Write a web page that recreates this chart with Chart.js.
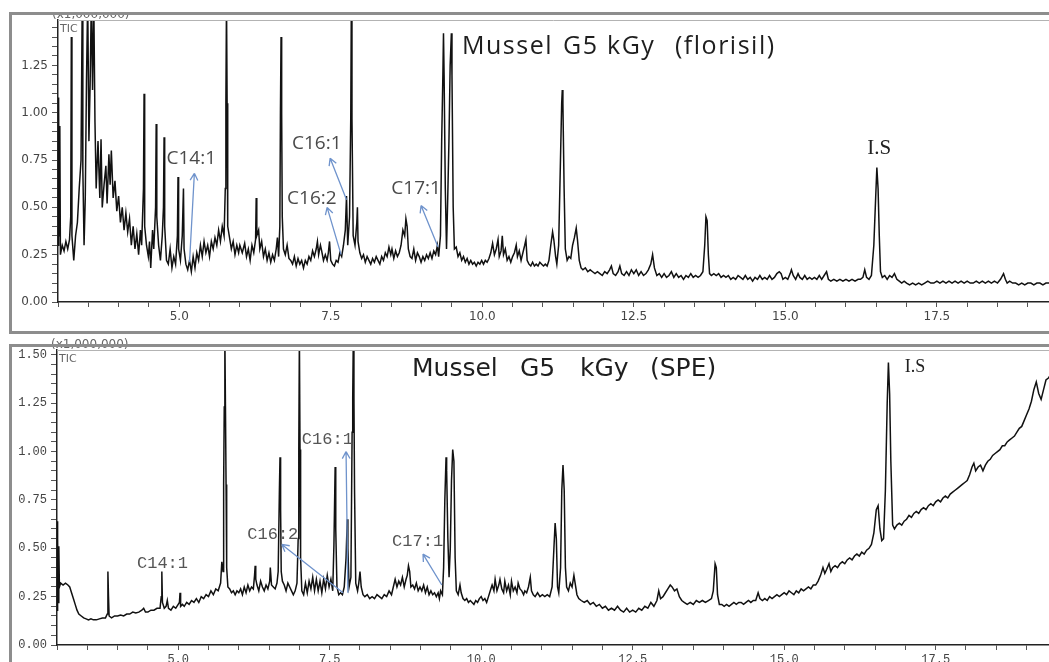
<!DOCTYPE html>
<html>
<head>
<meta charset="utf-8">
<title>Mussel G5 kGy chromatograms</title>
<script src="https://cdn.jsdelivr.net/npm/chart.js@4.4.1/dist/chart.umd.min.js"></script>
<style>
    html, body { margin: 0; padding: 0; background: #fff; }
    body { position: relative; width: 1049px; height: 662px; overflow: hidden; }
    canvas { position: absolute; left: 0; }
    #c1 { top: 0; }
    #c2 { top: 335px; }
    .cover { position: absolute; left: 0; top: 0; width: 1049px; height: 12px; background: #fff; z-index: 2; }
    .box { position: absolute; left: 9px; width: 1100px; box-sizing: border-box;
           border: 3px solid #8d8d8d; z-index: 3; pointer-events: none; }
    #box1 { top: 12px; height: 322px; }
    #box2 { top: 344px; height: 400px; }
</style>
</head>
<body>
<canvas id="c1" width="1049" height="340"></canvas>
<canvas id="c2" width="1049" height="340"></canvas>
<div class="cover"></div>
<div class="box" id="box1"></div>
<div class="box" id="box2"></div>

<script>
// ============ DATA ============

// Retention time (min) / TIC intensity (x1,000,000) - florisil clean-up
const floPoints = [
    [3.00,0.30],[3.01,1.08],[3.02,0.35],[3.03,0.93],[3.04,0.25],[3.07,0.30],[3.10,0.27],[3.13,0.32],
    [3.16,0.28],[3.19,0.33],[3.21,0.45],[3.22,1.40],[3.23,0.35],[3.26,0.22],[3.29,0.35],[3.32,0.42],
    [3.35,0.60],[3.38,0.75],[3.40,1.60],[3.41,0.70],[3.43,0.30],[3.45,0.55],[3.47,1.17],[3.49,1.60],
    [3.51,0.85],[3.53,1.15],[3.55,1.60],[3.57,1.12],[3.59,1.60],[3.61,0.95],[3.63,0.60],[3.66,0.85],
    [3.69,0.55],[3.71,0.86],[3.73,0.50],[3.76,0.62],[3.79,0.72],[3.81,0.52],[3.84,0.78],[3.86,0.62],
    [3.88,0.80],[3.91,0.55],[3.94,0.64],[3.97,0.48],[4.00,0.56],[4.03,0.42],[4.06,0.50],[4.09,0.38],
    [4.12,0.47],[4.15,0.37],[4.18,0.44],[4.21,0.30],[4.24,0.40],[4.27,0.28],[4.30,0.36],[4.33,0.25],
    [4.36,0.38],[4.38,0.30],[4.41,0.60],[4.42,1.10],[4.43,0.40],[4.46,0.30],[4.49,0.24],[4.51,0.32],
    [4.53,0.18],[4.56,0.38],[4.58,0.28],[4.61,0.50],[4.62,0.94],[4.63,0.45],[4.66,0.30],[4.69,0.22],
    [4.72,0.35],[4.74,0.50],[4.75,0.87],[4.76,0.40],[4.79,0.22],[4.82,0.20],[4.85,0.28],[4.88,0.18],
    [4.91,0.24],[4.94,0.20],[4.97,0.35],[4.98,0.66],[4.99,0.28],[5.02,0.22],[5.05,0.35],[5.07,0.60],
    [5.08,0.28],[5.11,0.20],[5.14,0.17],[5.17,0.22],[5.20,0.16],[5.23,0.24],[5.26,0.18],[5.29,0.26],
    [5.32,0.22],[5.35,0.30],[5.38,0.24],[5.41,0.32],[5.44,0.26],[5.47,0.30],[5.50,0.24],[5.53,0.32],
    [5.56,0.28],[5.59,0.34],[5.62,0.30],[5.65,0.38],[5.68,0.32],[5.71,0.40],[5.74,0.35],[5.76,0.60],
    [5.77,1.05],[5.78,1.60],[5.79,1.05],[5.80,0.40],[5.83,0.34],[5.86,0.28],[5.89,0.32],[5.92,0.25],
    [5.95,0.30],[5.98,0.26],[6.00,0.30],[6.04,0.26],[6.08,0.31],[6.11,0.24],[6.14,0.28],[6.17,0.22],
    [6.20,0.30],[6.23,0.26],[6.26,0.33],[6.27,0.55],[6.28,0.35],[6.31,0.38],[6.33,0.28],[6.36,0.32],
    [6.39,0.24],[6.42,0.28],[6.45,0.22],[6.48,0.26],[6.51,0.21],[6.54,0.25],[6.57,0.22],[6.60,0.28],
    [6.62,0.34],[6.64,0.24],[6.66,0.40],[6.67,1.01],[6.68,1.40],[6.69,1.00],[6.70,0.45],[6.72,0.28],
    [6.75,0.25],[6.78,0.30],[6.81,0.23],[6.84,0.22],[6.87,0.20],[6.90,0.24],[6.93,0.19],[6.96,0.23],
    [6.99,0.20],[7.02,0.22],[7.05,0.18],[7.08,0.22],[7.11,0.20],[7.14,0.24],[7.17,0.22],[7.20,0.27],
    [7.23,0.24],[7.26,0.28],[7.28,0.32],[7.30,0.25],[7.33,0.30],[7.35,0.27],[7.38,0.22],[7.41,0.25],
    [7.44,0.22],[7.46,0.26],[7.48,0.32],[7.50,0.22],[7.53,0.20],[7.56,0.19],[7.59,0.22],[7.62,0.21],
    [7.65,0.26],[7.68,0.24],[7.71,0.30],[7.74,0.38],[7.76,0.56],[7.78,0.30],[7.81,0.45],[7.83,0.97],
    [7.84,1.60],[7.85,0.97],[7.87,0.35],[7.90,0.30],[7.93,0.42],[7.94,0.50],[7.95,0.32],[7.98,0.26],
    [8.01,0.23],[8.04,0.25],[8.07,0.21],[8.10,0.24],[8.13,0.22],[8.16,0.20],[8.19,0.23],[8.22,0.21],
    [8.25,0.24],[8.28,0.22],[8.31,0.20],[8.34,0.24],[8.37,0.22],[8.40,0.26],[8.43,0.24],[8.46,0.29],
    [8.49,0.25],[8.51,0.28],[8.54,0.23],[8.57,0.27],[8.60,0.24],[8.63,0.26],[8.66,0.30],[8.69,0.38],
    [8.72,0.35],[8.74,0.44],[8.76,0.40],[8.78,0.28],[8.81,0.24],[8.84,0.23],[8.87,0.28],[8.90,0.22],
    [8.93,0.26],[8.96,0.24],[8.99,0.21],[9.02,0.24],[9.05,0.22],[9.08,0.25],[9.11,0.23],[9.14,0.26],
    [9.17,0.23],[9.20,0.27],[9.23,0.25],[9.26,0.30],[9.28,0.24],[9.31,0.35],[9.33,0.85],[9.35,1.20],
    [9.36,1.42],[9.37,1.20],[9.39,0.60],[9.41,0.28],[9.43,0.55],[9.45,0.85],[9.47,1.25],[9.49,1.42],
    [9.50,1.20],[9.52,0.50],[9.54,0.28],[9.57,0.29],[9.60,0.24],[9.63,0.26],[9.66,0.22],[9.69,0.24],
    [9.72,0.21],[9.75,0.23],[9.78,0.20],[9.81,0.22],[9.84,0.20],[9.87,0.21],[9.90,0.19],[9.93,0.21],
    [9.96,0.20],[9.99,0.22],[10.02,0.20],[10.05,0.22],[10.08,0.21],[10.11,0.23],[10.14,0.26],[10.17,0.31],
    [10.20,0.25],[10.23,0.28],[10.26,0.33],[10.28,0.24],[10.31,0.27],[10.33,0.35],[10.35,0.25],[10.38,0.28],
    [10.41,0.22],[10.44,0.24],[10.47,0.21],[10.50,0.24],[10.53,0.26],[10.56,0.30],[10.58,0.24],[10.61,0.27],
    [10.64,0.22],[10.67,0.26],[10.70,0.30],[10.72,0.33],[10.74,0.22],[10.77,0.20],[10.80,0.19],[10.83,0.21],
    [10.86,0.19],[10.89,0.20],[10.92,0.19],[10.95,0.21],[10.98,0.20],[11.01,0.19],[11.04,0.20],[11.07,0.19],
    [11.10,0.22],[11.13,0.30],[11.16,0.37],[11.18,0.33],[11.21,0.24],[11.23,0.20],[11.26,0.30],[11.29,0.75],
    [11.31,1.05],[11.32,1.12],[11.33,1.05],[11.35,0.60],[11.37,0.28],[11.40,0.22],[11.43,0.24],[11.46,0.23],
    [11.49,0.30],[11.52,0.34],[11.55,0.39],[11.57,0.33],[11.60,0.22],[11.63,0.18],[11.66,0.17],[11.70,0.18],
    [11.74,0.16],[11.78,0.17],[11.82,0.16],[11.86,0.15],[11.90,0.16],[11.94,0.15],[11.98,0.14],[12.02,0.16],
    [12.06,0.15],[12.10,0.17],[12.13,0.19],[12.16,0.15],[12.20,0.14],[12.24,0.16],[12.27,0.19],[12.30,0.15],
    [12.34,0.14],[12.38,0.16],[12.42,0.14],[12.46,0.17],[12.50,0.15],[12.54,0.17],[12.58,0.14],[12.62,0.16],
    [12.66,0.14],[12.70,0.15],[12.74,0.17],[12.78,0.20],[12.81,0.25],[12.84,0.18],[12.88,0.14],[12.92,0.15],
    [12.96,0.13],[13.00,0.15],[13.04,0.13],[13.08,0.14],[13.12,0.16],[13.16,0.13],[13.20,0.15],[13.24,0.13],
    [13.28,0.14],[13.32,0.12],[13.36,0.14],[13.40,0.13],[13.44,0.15],[13.48,0.13],[13.52,0.14],[13.56,0.13],
    [13.60,0.14],[13.64,0.16],[13.67,0.30],[13.69,0.45],[13.71,0.43],[13.73,0.25],[13.75,0.15],[13.78,0.14],
    [13.82,0.15],[13.86,0.14],[13.90,0.15],[13.94,0.13],[13.98,0.14],[14.02,0.13],[14.06,0.14],[14.10,0.12],
    [14.14,0.13],[14.18,0.12],[14.22,0.14],[14.26,0.13],[14.30,0.12],[14.34,0.14],[14.38,0.12],[14.42,0.13],
    [14.46,0.11],[14.50,0.13],[14.54,0.12],[14.58,0.14],[14.62,0.12],[14.66,0.13],[14.70,0.12],[14.74,0.14],
    [14.78,0.12],[14.82,0.13],[14.86,0.15],[14.90,0.16],[14.93,0.15],[14.96,0.12],[15.00,0.13],[15.04,0.12],
    [15.08,0.15],[15.10,0.17],[15.13,0.14],[15.17,0.12],[15.21,0.15],[15.24,0.13],[15.28,0.12],[15.32,0.14],
    [15.36,0.12],[15.40,0.13],[15.44,0.12],[15.48,0.13],[15.52,0.12],[15.56,0.14],[15.60,0.12],[15.64,0.14],
    [15.68,0.16],[15.71,0.12],[15.75,0.11],[15.80,0.12],[15.85,0.11],[15.90,0.12],[15.95,0.11],[16.00,0.12],
    [16.05,0.11],[16.10,0.12],[16.15,0.11],[16.20,0.12],[16.24,0.12],[16.28,0.13],[16.31,0.17],[16.34,0.13],
    [16.38,0.12],[16.42,0.14],[16.46,0.30],[16.49,0.55],[16.51,0.71],[16.53,0.60],[16.55,0.35],[16.57,0.16],
    [16.60,0.13],[16.64,0.14],[16.68,0.12],[16.72,0.14],[16.76,0.13],[16.80,0.15],[16.84,0.12],[16.88,0.11],
    [16.92,0.10],[16.96,0.11],[17.00,0.10],[17.05,0.09],[17.10,0.10],[17.15,0.09],[17.20,0.10],[17.25,0.09],
    [17.30,0.10],[17.35,0.11],[17.40,0.10],[17.45,0.10],[17.50,0.11],[17.55,0.10],[17.60,0.11],[17.65,0.10],
    [17.70,0.11],[17.75,0.10],[17.80,0.11],[17.85,0.10],[17.90,0.11],[17.95,0.10],[18.00,0.11],[18.05,0.10],
    [18.10,0.10],[18.15,0.11],[18.20,0.10],[18.25,0.11],[18.30,0.10],[18.35,0.11],[18.40,0.10],[18.45,0.11],
    [18.50,0.10],[18.55,0.12],[18.60,0.15],[18.63,0.12],[18.66,0.10],[18.70,0.11],[18.75,0.10],[18.80,0.10],
    [18.85,0.09],[18.90,0.10],[18.95,0.09],[19.00,0.10],[19.05,0.10],[19.10,0.09],[19.15,0.10],[19.20,0.10],
    [19.25,0.09],[19.30,0.10],[19.35,0.10],[19.40,0.10]
];

// Retention time (min) / TIC intensity (x1,000,000) - SPE clean-up
const spePoints = [
    [3.00,0.18],[3.005,0.64],[3.01,0.20],[3.015,0.55],[3.02,0.22],[3.03,0.51],[3.04,0.30],[3.06,0.32],
    [3.10,0.31],[3.14,0.32],[3.18,0.31],[3.21,0.30],[3.24,0.27],[3.27,0.24],[3.30,0.21],[3.33,0.18],
    [3.36,0.16],[3.40,0.15],[3.44,0.14],[3.48,0.135],[3.52,0.13],[3.56,0.135],[3.60,0.13],[3.65,0.13],
    [3.70,0.135],[3.75,0.14],[3.80,0.14],[3.83,0.16],[3.84,0.38],[3.85,0.25],[3.86,0.15],[3.90,0.14],
    [3.95,0.15],[4.00,0.15],[4.05,0.155],[4.10,0.15],[4.15,0.16],[4.20,0.16],[4.25,0.17],[4.30,0.165],
    [4.35,0.17],[4.40,0.18],[4.43,0.19],[4.46,0.17],[4.50,0.17],[4.55,0.18],[4.60,0.18],[4.65,0.19],
    [4.70,0.19],[4.72,0.25],[4.73,0.38],[4.74,0.22],[4.77,0.19],[4.80,0.20],[4.82,0.23],[4.84,0.19],
    [4.88,0.18],[4.92,0.20],[4.96,0.19],[5.00,0.21],[5.02,0.22],[5.03,0.27],[5.04,0.20],[5.07,0.21],
    [5.10,0.20],[5.14,0.22],[5.18,0.21],[5.22,0.23],[5.26,0.22],[5.30,0.24],[5.34,0.22],[5.38,0.25],
    [5.42,0.24],[5.46,0.26],[5.50,0.25],[5.54,0.28],[5.58,0.26],[5.62,0.29],[5.66,0.28],[5.70,0.32],
    [5.72,0.43],[5.74,0.38],[5.75,0.83],[5.76,1.23],[5.77,1.60],[5.78,1.23],[5.79,0.83],[5.80,0.40],
    [5.82,0.30],[5.85,0.29],[5.88,0.27],[5.91,0.28],[5.94,0.26],[5.97,0.28],[6.00,0.27],[6.03,0.29],
    [6.06,0.26],[6.09,0.30],[6.12,0.27],[6.15,0.31],[6.18,0.28],[6.21,0.30],[6.24,0.29],[6.26,0.36],
    [6.27,0.41],[6.28,0.34],[6.30,0.31],[6.33,0.28],[6.36,0.33],[6.39,0.30],[6.42,0.28],[6.45,0.31],
    [6.48,0.29],[6.51,0.33],[6.52,0.40],[6.54,0.31],[6.57,0.30],[6.60,0.29],[6.63,0.32],[6.65,0.38],
    [6.67,0.80],[6.68,0.97],[6.69,0.70],[6.70,0.38],[6.72,0.33],[6.75,0.31],[6.78,0.28],[6.81,0.32],
    [6.84,0.30],[6.87,0.28],[6.90,0.26],[6.93,0.28],[6.96,0.32],[6.98,0.55],[6.99,1.01],[7.00,1.60],
    [7.01,1.01],[7.02,0.45],[7.04,0.28],[7.07,0.26],[7.10,0.32],[7.13,0.27],[7.16,0.33],[7.19,0.29],
    [7.22,0.35],[7.25,0.28],[7.28,0.34],[7.31,0.28],[7.34,0.33],[7.37,0.27],[7.40,0.34],[7.43,0.29],
    [7.46,0.36],[7.49,0.30],[7.52,0.34],[7.55,0.28],[7.57,0.52],[7.59,0.92],[7.60,0.60],[7.62,0.30],
    [7.65,0.26],[7.68,0.27],[7.71,0.26],[7.74,0.30],[7.77,0.45],[7.79,0.65],[7.80,0.50],[7.82,0.30],
    [7.85,0.35],[7.87,1.10],[7.88,1.28],[7.89,1.60],[7.90,1.28],[7.91,0.80],[7.93,0.32],[7.96,0.28],
    [7.98,0.32],[8.00,0.38],[8.02,0.30],[8.05,0.26],[8.08,0.25],[8.12,0.26],[8.16,0.24],[8.20,0.25],
    [8.24,0.24],[8.28,0.26],[8.32,0.25],[8.36,0.24],[8.40,0.26],[8.44,0.25],[8.48,0.28],[8.52,0.26],
    [8.55,0.30],[8.58,0.34],[8.61,0.30],[8.64,0.33],[8.67,0.31],[8.70,0.35],[8.73,0.30],[8.76,0.34],
    [8.78,0.36],[8.80,0.41],[8.82,0.38],[8.84,0.30],[8.87,0.31],[8.90,0.29],[8.93,0.32],[8.96,0.28],
    [8.99,0.30],[9.02,0.28],[9.05,0.31],[9.08,0.27],[9.11,0.30],[9.14,0.26],[9.17,0.28],[9.20,0.26],
    [9.23,0.27],[9.26,0.25],[9.29,0.27],[9.31,0.24],[9.33,0.28],[9.36,0.26],[9.38,0.40],[9.40,0.75],
    [9.42,0.97],[9.43,0.90],[9.45,0.55],[9.47,0.35],[9.49,0.50],[9.51,0.85],[9.53,1.01],[9.55,0.95],
    [9.57,0.45],[9.59,0.28],[9.62,0.26],[9.65,0.31],[9.67,0.27],[9.70,0.24],[9.73,0.23],[9.76,0.24],
    [9.79,0.22],[9.82,0.23],[9.85,0.22],[9.88,0.21],[9.91,0.23],[9.94,0.22],[9.97,0.24],[10.00,0.25],
    [10.03,0.23],[10.06,0.24],[10.09,0.22],[10.12,0.25],[10.15,0.28],[10.18,0.31],[10.21,0.28],[10.23,0.34],
    [10.26,0.28],[10.29,0.31],[10.31,0.34],[10.34,0.29],[10.37,0.27],[10.39,0.33],[10.42,0.28],[10.45,0.31],
    [10.48,0.26],[10.50,0.33],[10.53,0.28],[10.56,0.30],[10.59,0.27],[10.61,0.32],[10.64,0.29],[10.67,0.28],
    [10.70,0.26],[10.72,0.28],[10.75,0.27],[10.78,0.30],[10.81,0.35],[10.83,0.28],[10.86,0.26],[10.89,0.25],
    [10.93,0.27],[10.97,0.25],[11.01,0.26],[11.05,0.25],[11.09,0.26],[11.13,0.25],[11.17,0.30],[11.20,0.50],
    [11.22,0.63],[11.24,0.55],[11.26,0.30],[11.28,0.27],[11.31,0.40],[11.33,0.80],[11.35,0.93],[11.37,0.80],
    [11.39,0.40],[11.41,0.30],[11.44,0.28],[11.47,0.32],[11.50,0.30],[11.53,0.36],[11.55,0.32],[11.58,0.26],
    [11.61,0.24],[11.65,0.23],[11.70,0.22],[11.75,0.23],[11.80,0.21],[11.85,0.22],[11.90,0.20],[11.95,0.21],
    [12.00,0.19],[12.05,0.20],[12.10,0.18],[12.15,0.19],[12.20,0.18],[12.25,0.20],[12.30,0.18],[12.35,0.17],
    [12.40,0.19],[12.45,0.17],[12.50,0.18],[12.55,0.17],[12.60,0.19],[12.65,0.18],[12.70,0.20],[12.75,0.19],
    [12.80,0.22],[12.85,0.20],[12.90,0.23],[12.93,0.28],[12.96,0.24],[13.00,0.25],[13.04,0.27],[13.08,0.29],
    [13.12,0.31],[13.15,0.30],[13.19,0.28],[13.23,0.29],[13.27,0.25],[13.31,0.23],[13.35,0.22],[13.40,0.21],
    [13.45,0.22],[13.50,0.21],[13.55,0.23],[13.60,0.22],[13.65,0.23],[13.70,0.22],[13.75,0.23],[13.80,0.24],
    [13.83,0.28],[13.86,0.42],[13.88,0.40],[13.90,0.26],[13.93,0.21],[13.97,0.21],[14.01,0.20],[14.05,0.21],
    [14.09,0.20],[14.13,0.21],[14.17,0.22],[14.21,0.21],[14.25,0.22],[14.29,0.22],[14.33,0.21],[14.37,0.22],
    [14.41,0.23],[14.45,0.22],[14.49,0.23],[14.53,0.23],[14.57,0.27],[14.60,0.24],[14.64,0.23],[14.68,0.24],
    [14.72,0.23],[14.76,0.25],[14.80,0.24],[14.84,0.25],[14.88,0.26],[14.92,0.25],[14.96,0.26],[15.00,0.27],
    [15.04,0.26],[15.08,0.28],[15.12,0.27],[15.16,0.26],[15.20,0.28],[15.24,0.27],[15.28,0.29],[15.32,0.28],
    [15.36,0.29],[15.40,0.30],[15.44,0.29],[15.48,0.31],[15.52,0.31],[15.56,0.33],[15.60,0.36],[15.64,0.40],
    [15.67,0.37],[15.70,0.39],[15.74,0.42],[15.77,0.38],[15.80,0.40],[15.84,0.41],[15.88,0.40],[15.92,0.42],
    [15.96,0.43],[16.00,0.42],[16.04,0.44],[16.08,0.45],[16.12,0.44],[16.16,0.46],[16.20,0.47],[16.24,0.46],
    [16.28,0.48],[16.32,0.47],[16.36,0.49],[16.40,0.50],[16.44,0.52],[16.48,0.58],[16.52,0.70],[16.55,0.72],
    [16.58,0.60],[16.61,0.54],[16.64,0.55],[16.67,0.80],[16.70,1.25],[16.72,1.46],[16.74,1.30],[16.76,0.95],
    [16.79,0.62],[16.82,0.60],[16.86,0.62],[16.90,0.63],[16.94,0.62],[16.98,0.64],[17.02,0.65],[17.06,0.67],
    [17.10,0.66],[17.14,0.68],[17.18,0.69],[17.22,0.68],[17.26,0.70],[17.30,0.71],[17.34,0.70],[17.38,0.72],
    [17.42,0.73],[17.46,0.72],[17.50,0.74],[17.54,0.75],[17.58,0.74],[17.62,0.76],[17.66,0.77],[17.70,0.76],
    [17.74,0.78],[17.78,0.79],[17.82,0.80],[17.86,0.81],[17.90,0.82],[17.94,0.83],[17.98,0.84],[18.02,0.85],
    [18.06,0.88],[18.10,0.92],[18.13,0.94],[18.16,0.90],[18.20,0.92],[18.24,0.93],[18.28,0.90],[18.32,0.93],
    [18.36,0.95],[18.40,0.96],[18.44,0.98],[18.48,0.99],[18.52,1.00],[18.56,1.01],[18.60,1.03],[18.64,1.03],
    [18.68,1.05],[18.72,1.06],[18.76,1.07],[18.80,1.08],[18.84,1.10],[18.88,1.12],[18.92,1.13],[18.96,1.16],
    [19.00,1.19],[19.04,1.22],[19.08,1.26],[19.12,1.32],[19.16,1.36],[19.20,1.30],[19.24,1.27],[19.28,1.32],
    [19.32,1.37],[19.36,1.38],[19.40,1.40]
];

// Peak labels: text and anchor (time, intensity)
const floLabels = [
    { text: "C14:1", t: 4.79, v: 0.73 },
    { text: "C16:1", t: 6.86, v: 0.81 },
    { text: "C16:2", t: 6.78, v: 0.52 },
    { text: "C17:1", t: 8.50, v: 0.57 }
];
const speLabels = [
    { text: "C14:1", t: 4.32, v: 0.40 },
    { text: "C16:2", t: 6.14, v: 0.55 },
    { text: "C16:1", t: 7.04, v: 1.04 },
    { text: "C17:1", t: 8.53, v: 0.51 }
];

// Arrows: [tail time, tail intensity, head time, head intensity]
const floArrows = [
    [5.17, 0.21, 5.25, 0.68],
    [7.76, 0.54, 7.49, 0.76],
    [7.67, 0.25, 7.44, 0.50],
    [9.27, 0.29, 8.99, 0.51]
];
const speArrows = [
    [7.72, 0.27, 6.71, 0.52],
    [7.80, 0.27, 7.77, 1.00],
    [9.35, 0.31, 9.04, 0.47]
];

// Internal standard marker
const floIS = { text: "I.S", t: 16.35, v: 0.78 };
const speIS = { text: "I.S", t: 16.99, v: 1.41 };

// ============ DECORATION PLUGIN ============

const decorPlugin = {
    id: "decor",
    afterDraw(chart) {
        const o = chart.options.plugins.decor;
        const { ctx, chartArea: a, scales: { x, y } } = chart;
        ctx.save();

        // thin frame line on top of the plot area
        ctx.strokeStyle = "#b3b3b3";
        ctx.lineWidth = 1;
        ctx.beginPath();
        ctx.moveTo(a.left, a.top + 0.5);
        ctx.lineTo(a.right, a.top + 0.5);
        ctx.stroke();

        // intensity multiplier (cut by the panel frame) and TIC tag
        ctx.fillStyle = "#666";
        ctx.textAlign = "left";
        ctx.textBaseline = "alphabetic";
        ctx.font = '12px "DejaVu Sans"';
        ctx.fillText("(x1,000,000)", a.left - 6, a.top - 2);
        ctx.font = '11px "DejaVu Sans"';
        ctx.fillText("TIC", a.left + 2, a.top + 12);

        // title, word by word (the original has wide word gaps)
        ctx.fillStyle = "#1e1e1e";
        ctx.font = o.titleFont;
        ctx.letterSpacing = o.titleSpacing;
        o.title.forEach(w => ctx.fillText(w[0], w[1], w[2]));
        ctx.letterSpacing = "0px";

        // peak labels
        ctx.fillStyle = o.labelColor;
        ctx.font = o.labelFont;
        o.labels.forEach(l => ctx.fillText(l.text, x.getPixelForValue(l.t), y.getPixelForValue(l.v)));

        // internal standard
        ctx.fillStyle = "#222";
        ctx.font = o.isFont;
        ctx.fillText(o.is.text, x.getPixelForValue(o.is.t), y.getPixelForValue(o.is.v));

        // arrows
        ctx.strokeStyle = "#6f93cc";
        ctx.lineWidth = 1.3;
        o.arrows.forEach(r => {
            const x0 = x.getPixelForValue(r[0]), y0 = y.getPixelForValue(r[1]);
            const x1 = x.getPixelForValue(r[2]), y1 = y.getPixelForValue(r[3]);
            const ang = Math.atan2(y1 - y0, x1 - x0);
            ctx.beginPath();
            ctx.moveTo(x0, y0);
            ctx.lineTo(x1, y1);
            [-0.5, 0.5].forEach(d => {
                ctx.moveTo(x1, y1);
                ctx.lineTo(x1 - 8 * Math.cos(ang + d), y1 - 8 * Math.sin(ang + d));
            });
            ctx.stroke();
        });
        ctx.restore();
    }
};

// ============ CHARTS ============

function isStep(v, step) {
    return Math.abs(v / step - Math.round(v / step)) < 1e-6;
}

function buildChart(id, points, o) {
    return new Chart(document.getElementById(id), {
        type: "line",
        data: {
            datasets: [{
                data: points.map(p => ({ x: p[0], y: p[1] })),
                borderColor: "#111",
                borderWidth: 1.5,
                pointRadius: 0,
                tension: 0,
            }]
        },
        options: {
            responsive: false,
            animation: false,
            layout: { padding: o.padding },
            scales: {
                x: {
                    type: "linear",
                    min: 3,
                    max: o.xMax,
                    afterFit: s => { s.height = 30; },
                    ticks: {
                        stepSize: 0.5, autoSkip: false, includeBounds: false, maxRotation: 0,
                        padding: 3, color: "#444", font: o.tickFont,
                        callback: v => isStep(v, 2.5) ? v.toFixed(1) : ""
                    },
                    grid: { drawOnChartArea: false, tickLength: 5, tickColor: "#555" },
                    border: { color: "#222", width: 1.5 }
                },
                y: {
                    min: 0,
                    max: o.yMax,
                    afterFit: s => { s.width = 48; },
                    ticks: {
                        stepSize: 0.05, autoSkip: false, includeBounds: false,
                        padding: 4, color: "#444", font: o.tickFont,
                        callback: v => isStep(v, 0.25) ? v.toFixed(2) : ""
                    },
                    grid: { drawOnChartArea: false, tickLength: 6, tickColor: "#555" },
                    border: { color: "#222", width: 1.5 }
                }
            },
            plugins: {
                legend: { display: false },
                tooltip: { enabled: false },
                decor: o
            }
        },
        plugins: [decorPlugin]
    });
}

buildChart("c1", floPoints, {
    padding: { left: 10, top: 20, right: 0, bottom: 8 },
    xMax: 19.35,
    yMax: 1.49,
    tickFont: { family: "DejaVu Sans", size: 12 },
    titleFont: '25px "Open Sans"',
    titleSpacing: "1.5px",
    title: [["Mussel", 462, 54], ["G5", 563, 54], ["kGy", 607, 54], ["(florisil)", 675, 54]],
    labelFont: '19px "Open Sans"',
    labelColor: "#4a4a4a",
    labels: floLabels,
    arrows: floArrows,
    isFont: '21px "Liberation Serif"',
    is: floIS
});

buildChart("c2", spePoints, {
    padding: { left: 9, top: 15, right: 0, bottom: 0 },
    xMax: 19.37,
    yMax: 1.525,
    tickFont: { family: "Liberation Mono", size: 12 },
    titleFont: '25px "DejaVu Sans"',
    titleSpacing: "0px",
    title: [["Mussel", 412, 41], ["G5", 520, 41], ["kGy", 580, 41], ["(SPE)", 650, 41]],
    labelFont: '17px "Liberation Mono"',
    labelColor: "#555",
    labels: speLabels,
    arrows: speArrows,
    isFont: '18px "Liberation Serif"',
    is: speIS
});
</script>
</body>
</html>
